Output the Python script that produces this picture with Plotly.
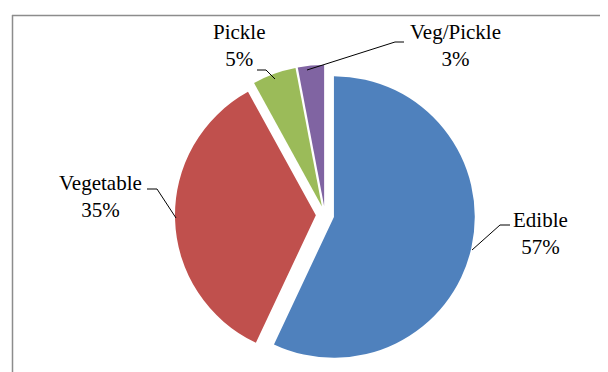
import plotly.graph_objects as go

categories = ["Edible", "Vegetable", "Pickle", "Veg/Pickle"]
values = [57, 35, 5, 3]
colors = ["#4F81BD", "#C0504D", "#9BBB59", "#8064A2"]

# the page body has an 8px default margin; the figure fills the rest
OFF = 8
W, H = 608 - OFF, 372 - OFF


def px(x):
    return (x - OFF) / W


def py(y):
    return 1 - (y - OFF) / H


total = sum(values)
pct = [f"{round(v / total * 100)}%" for v in values]

fig = go.Figure(
    go.Pie(
        labels=categories,
        values=values,
        sort=False,
        direction="clockwise",
        rotation=0,
        pull=[0.065] * 4,
        marker=dict(colors=colors, line=dict(color="white", width=0)),
        textinfo="none",
        hoverinfo="label+percent",
        showlegend=False,
        domain=dict(x=[px(175), px(475)], y=[py(365), py(65)]),
    )
)

# label placement (pixel centres) and leader lines
label_pos = {
    "Edible": (540, 233),
    "Vegetable": (100, 196),
    "Pickle": (239, 46),
    "Veg/Pickle": (455, 46),
}
leaders = {
    "Edible": [(510, 225), (500, 225), (472, 250)],
    "Vegetable": [(147, 189), (157, 189), (176, 218)],
    "Pickle": [(257, 70), (266, 70), (275, 79)],
    "Veg/Pickle": [(404, 42), (395, 42), (307, 70)],
}

annotations = []
shapes = []
for cat, p in zip(categories, pct):
    x, y = label_pos[cat]
    annotations.append(
        dict(
            x=px(x), y=py(y), xref="paper", yref="paper",
            text=f"{cat}<br>{p}", showarrow=False,
            font=dict(family="Liberation Serif", size=21, color="black"),
            xanchor="center", yanchor="middle", align="center",
        )
    )
    pts = leaders[cat]
    path = "M " + " L ".join(f"{px(a)},{py(b)}" for a, b in pts)
    shapes.append(
        dict(type="path", path=path, xref="paper", yref="paper",
             line=dict(color="black", width=1))
    )

# chart frame (cropped)
shapes.append(dict(type="line", xref="paper", yref="paper",
                   x0=px(12), y0=py(15.5), x1=px(608), y1=py(15.5),
                   line=dict(color="#8c8c8c", width=1.5)))
shapes.append(dict(type="line", xref="paper", yref="paper",
                   x0=px(12.5), y0=py(15), x1=px(12.5), y1=py(372),
                   line=dict(color="#8c8c8c", width=1.5)))

fig.update_layout(
    width=W, height=H,
    margin=dict(l=0, r=0, t=0, b=0),
    paper_bgcolor="white",
    plot_bgcolor="white",
    annotations=annotations,
    shapes=shapes,
)

fig.write_html("out.html")
